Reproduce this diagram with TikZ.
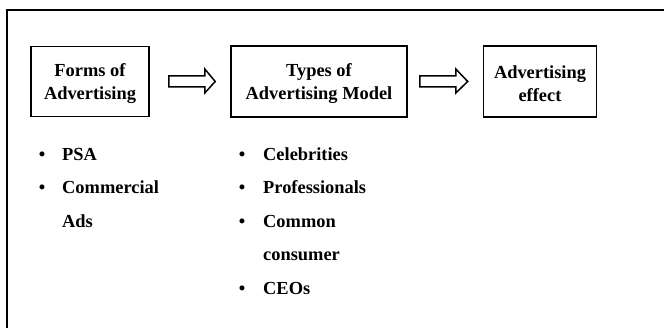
\documentclass[tikz,border=0pt]{standalone}
\usepackage{fontspec}
\setmainfont{Liberation Serif}
\usetikzlibrary{calc}
\newcommand{\topstrut}{\rule{0pt}{16.5pt}}
\tikzset{
  boxnode/.style={draw=black, line width=1.6pt, align=center, inner sep=0pt,
    font=\bfseries\fontsize{18.4}{23}\selectfont},
  itemtext/.style={anchor=base west, inner sep=0pt, font=\bfseries\fontsize{18.4}{23}\selectfont},
  bulletmark/.style={anchor=base, inner sep=0pt, font=\bfseries\fontsize{18.4}{23}\selectfont},
  fatarrow/.style={draw=black, line width=1.5pt, fill=white, line join=miter},
}
\begin{document}
\begin{tikzpicture}[x=1pt,y=-1pt]
\useasboundingbox (0,0) rectangle (664,328);
\fill[white] (0,0) rectangle (664,328);
\draw[line width=1.3pt] (7,10) rectangle (672,336);

\node[boxnode, minimum width=118pt, minimum height=70pt] (b1) at (90,81.5) {\topstrut Forms of\\Advertising};
\node[boxnode, minimum width=176pt, minimum height=71pt] (b2) at (319,81.5) {\topstrut Types of\\Advertising Model};
\node[boxnode, minimum width=113pt, minimum height=71pt] (b3) at (540,81.5) {\topstrut Advertising\\effect};

% block arrows between boxes
\draw[fatarrow] ($(b1.east)+(19,-5.5)$) -- ($(b1.east)+(55,-5.5)$) -- ($(b1.east)+(55,-12.5)$)
  -- ($(b2.west)+(-15,0)$) -- ($(b1.east)+(55,11.5)$) -- ($(b1.east)+(55,5.5)$)
  -- ($(b1.east)+(19,5.5)$) -- cycle;
\draw[fatarrow] ($(b2.east)+(12,-5.5)$) -- ($(b2.east)+(48,-5.5)$) -- ($(b2.east)+(48,-12.5)$)
  -- ($(b3.west)+(-15,0)$) -- ($(b2.east)+(48,11.5)$) -- ($(b2.east)+(48,5.5)$)
  -- ($(b2.east)+(12,5.5)$) -- cycle;

% list 1
\node[bulletmark] (p1) at (42,161) {•};
\node[itemtext] (t1) at (62,161) {PSA};
\node[bulletmark] (p2) at (42,194) {•};
\node[itemtext] (t2) at (62,194) {Commercial};
\node[itemtext] (t3) at (62,228) {Ads};

% list 2
\node[bulletmark] (q1) at (242,161) {•};
\node[itemtext] (u1) at (263,161) {Celebrities};
\node[bulletmark] (q2) at (242,194) {•};
\node[itemtext] (u2) at (263,194) {Professionals};
\node[bulletmark] (q3) at (242,228) {•};
\node[itemtext] (u3) at (263,228) {Common};
\node[itemtext] (u4) at (263,261) {consumer};
\node[bulletmark] (q4) at (242,295) {•};
\node[itemtext] (u5) at (263,295) {CEOs};
\end{tikzpicture}
\end{document}
